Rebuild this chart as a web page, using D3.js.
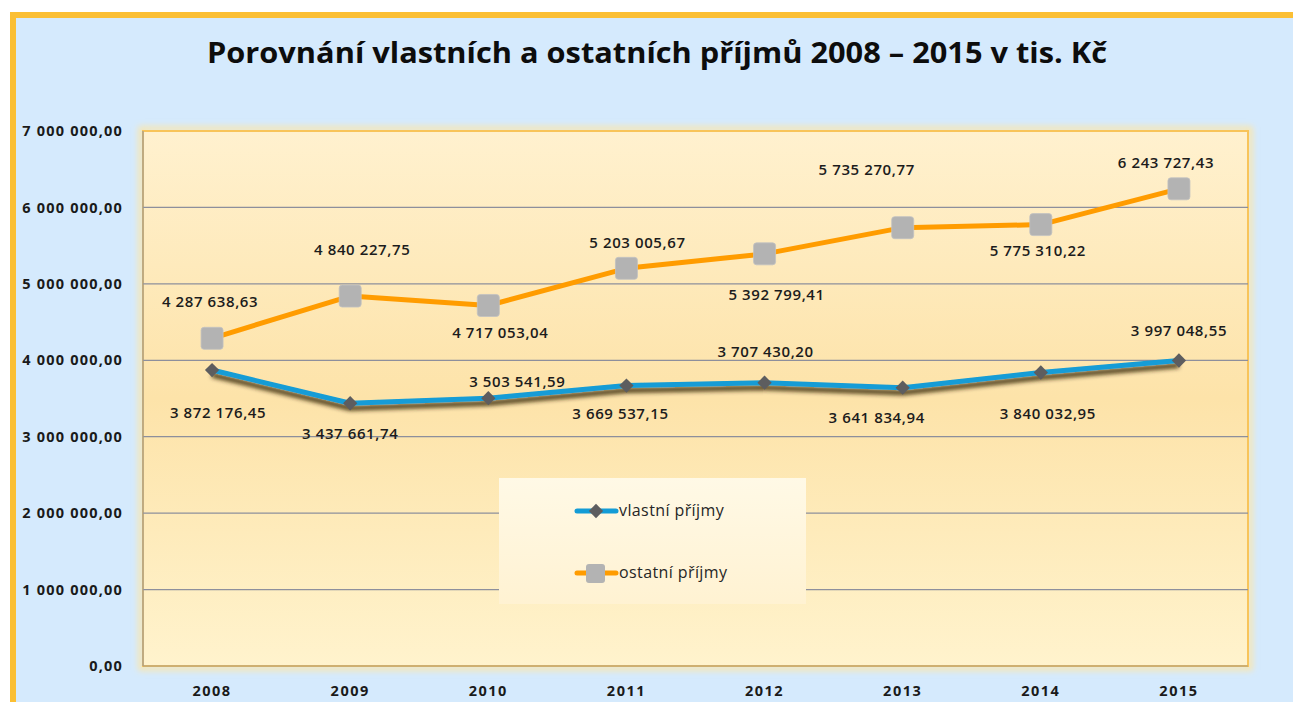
<!DOCTYPE html>
<html><head><meta charset="utf-8">
<script src="https://cdn.jsdelivr.net/npm/d3@7"></script>
<style>
html,body{margin:0;padding:0;background:#fff;overflow:hidden;}
svg{display:block;font-family:"Open Sans",sans-serif;}
</style></head>
<body><svg id="c" width="1293" height="702"></svg>
<script>
const years = ["2008","2009","2010","2011","2012","2013","2014","2015"];
const vlastni = [3872176.45,3437661.74,3503541.59,3669537.15,3707430.20,3641834.94,3840032.95,3997048.55];
const ostatni = [4287638.63,4840227.75,4717053.04,5203005.67,5392799.41,5735270.77,5775310.22,6243727.43];
const yTicks = [0,1000000,2000000,3000000,4000000,5000000,6000000,7000000];
const seriesNames = ["vlastní příjmy","ostatní příjmy"];
const titleText = "Porovnání vlastních a ostatních příjmů 2008 – 2015 v tis. Kč";
// label offsets (layout only)
const ostLabelOff = [[-2,-36],[12,-46],[12,28],[11,-25],[12,41],[-36,-58],[-3,26],[-13,-26]];
const vlaLabelOff = [[6,43],[0,31],[29,-16],[-6,28],[1,-31],[-26,30],[7,41],[0,-30]];

const svg = d3.select("#c");
const defs = svg.append("defs");
const W=1293,H=702;
const plot = {x0:143,x1:1248,y0:131,y1:666};

// gradients
const g1 = defs.append("linearGradient").attr("id","pg").attr("x1",0).attr("y1",0).attr("x2",0).attr("y2",1);
g1.append("stop").attr("offset","0%").attr("stop-color","#fff1cf");
g1.append("stop").attr("offset","50%").attr("stop-color","#fde3a9");
g1.append("stop").attr("offset","100%").attr("stop-color","#fff3cd");
const g2 = defs.append("linearGradient").attr("id","lg").attr("x1",0).attr("y1",0).attr("x2",0).attr("y2",1);
g2.append("stop").attr("offset","0%").attr("stop-color","#fff9e6");
g2.append("stop").attr("offset","100%").attr("stop-color","#fff2d2");
const sh = defs.append("filter").attr("id","sh").attr("x","-5%").attr("y","-50%").attr("width","110%").attr("height","200%");
sh.append("feDropShadow").attr("dx",0).attr("dy",5).attr("stdDeviation",2).attr("flood-color","#2e2003").attr("flood-opacity",0.85);
const glow = defs.append("filter").attr("id","glow").attr("x","-5%").attr("y","-5%").attr("width","110%").attr("height","110%");
glow.append("feGaussianBlur").attr("stdDeviation",3);

// outer
svg.append("rect").attr("x",0).attr("y",0).attr("width",W).attr("height",H).attr("fill","#ffffff");
svg.append("rect").attr("x",13).attr("y",15).attr("width",W+20).attr("height",H+20)
  .attr("fill","#d5eafd").attr("stroke","#fbbf34").attr("stroke-width",6);

// title
svg.append("text").attr("x",657).attr("y",63).attr("text-anchor","middle")
  .attr("font-size",29).attr("font-weight",700).attr("fill","#0d0d0d")
  .attr("textLength",900).attr("lengthAdjust","spacingAndGlyphs").text(titleText);

// plot area
svg.append("rect").attr("x",plot.x0-2).attr("y",plot.y0-2).attr("width",plot.x1-plot.x0+4).attr("height",plot.y1-plot.y0+4)
  .attr("fill","none").attr("stroke","#fde6a6").attr("stroke-width",5).attr("filter","url(#glow)");
svg.append("rect").attr("x",plot.x0).attr("y",plot.y0).attr("width",plot.x1-plot.x0).attr("height",plot.y1-plot.y0)
  .attr("fill","url(#pg)").attr("stroke","#f8c45a").attr("stroke-width",2);

const x = d3.scaleBand().domain(years).range([plot.x0,plot.x1]);
const y = d3.scaleLinear().domain([0,7000000]).range([plot.y1,plot.y0]);
const loc = d3.formatLocale({decimal:",",thousands:" ",grouping:[3],currency:["",""]});
const fmt = loc.format(",.2f");

// gridlines
svg.append("g").selectAll("line").data(yTicks.filter(d=>d>0 && d<7000000)).join("line")
  .attr("x1",plot.x0).attr("x2",plot.x1).attr("y1",d=>y(d)).attr("y2",d=>y(d))
  .attr("stroke","#8d8f9c").attr("stroke-width",1.2);
svg.append("line").attr("x1",plot.x0).attr("x2",plot.x0).attr("y1",plot.y0).attr("y2",plot.y1).attr("stroke","#9a9a9a").attr("stroke-width",1.2);
svg.append("line").attr("x1",plot.x0).attr("x2",plot.x1).attr("y1",plot.y1).attr("y2",plot.y1).attr("stroke","#a39a86").attr("stroke-width",1.2);

// y axis
const ya = svg.append("g").attr("transform",`translate(${plot.x0-20},0)`)
  .call(d3.axisLeft(y).tickValues(yTicks).tickFormat(fmt).tickSize(0).tickPadding(0));
ya.select(".domain").remove();
ya.selectAll("text").attr("font-family","Open Sans").attr("font-size",14.5).attr("font-weight",700)
  .attr("letter-spacing",1.2).attr("fill","#1a1a1a");

// x axis
const xa = svg.append("g").attr("transform",`translate(0,${plot.y1})`)
  .call(d3.axisBottom(x).tickSize(0).tickPadding(20));
xa.select(".domain").remove();
xa.selectAll("text").attr("font-family","Open Sans").attr("font-size",14.5).attr("font-weight",700)
  .attr("letter-spacing",1.5).attr("fill","#1a1a1a");

const cx = d=>x(d)+x.bandwidth()/2;
const line = d3.line().x((d,i)=>cx(years[i])).y(d=>y(d));

// vlastni line
svg.append("path").datum(vlastni).attr("d",line).attr("fill","none").attr("stroke","#139cd6")
  .attr("stroke-width",5).attr("stroke-linejoin","round").attr("filter","url(#sh)");
svg.append("g").selectAll("path").data(vlastni).join("path")
  .attr("d",d3.symbol(d3.symbolDiamond2,130)())
  .attr("transform",(d,i)=>`translate(${cx(years[i])},${y(d)})`).attr("fill","#5d5d5f");

// ostatni line
svg.append("path").datum(ostatni).attr("d",line).attr("fill","none").attr("stroke","#ff9c00")
  .attr("stroke-width",5).attr("stroke-linejoin","round");
svg.append("g").selectAll("rect").data(ostatni).join("rect")
  .attr("x",(d,i)=>cx(years[i])-11).attr("y",d=>y(d)-11).attr("width",22).attr("height",22)
  .attr("rx",3).attr("fill","#b3b3b3").attr("stroke","#c2c2c2").attr("stroke-width",0.8);

// labels
function labels(arr,off){
  svg.append("g").selectAll("text").data(arr).join("text")
    .attr("x",(d,i)=>cx(years[i])+off[i][0]).attr("y",(d,i)=>y(d)+off[i][1]+5)
    .attr("text-anchor","middle").attr("font-size",15).attr("font-weight",600)
    .attr("letter-spacing",0.6).attr("fill","#1c1c1c")
    .text(d=>fmt(d));
}
labels(ostatni,ostLabelOff);
labels(vlastni,vlaLabelOff);

// legend
const lg = svg.append("g");
lg.append("rect").attr("x",499).attr("y",478).attr("width",307).attr("height",126).attr("fill","url(#lg)");
const items=[{n:seriesNames[0],c:"#139cd6",m:"d",yy:511},{n:seriesNames[1],c:"#ff9c00",m:"s",yy:573}];
items.forEach(it=>{
  lg.append("line").attr("x1",577).attr("x2",616).attr("y1",it.yy).attr("y2",it.yy).attr("stroke",it.c).attr("stroke-width",5).attr("stroke-linecap","round");
  if(it.m==="d") lg.append("path").attr("d",d3.symbol(d3.symbolDiamond2,130)()).attr("transform",`translate(596,${it.yy})`).attr("fill","#5d5d5f");
  else lg.append("rect").attr("x",586).attr("y",it.yy-9).attr("width",19).attr("height",19).attr("rx",3).attr("fill","#b3b3b3");
  lg.append("text").attr("x",619).attr("y",it.yy+5).attr("font-size",16).attr("letter-spacing",0.4).attr("fill","#262626").text(it.n);
});
</script></body></html>
